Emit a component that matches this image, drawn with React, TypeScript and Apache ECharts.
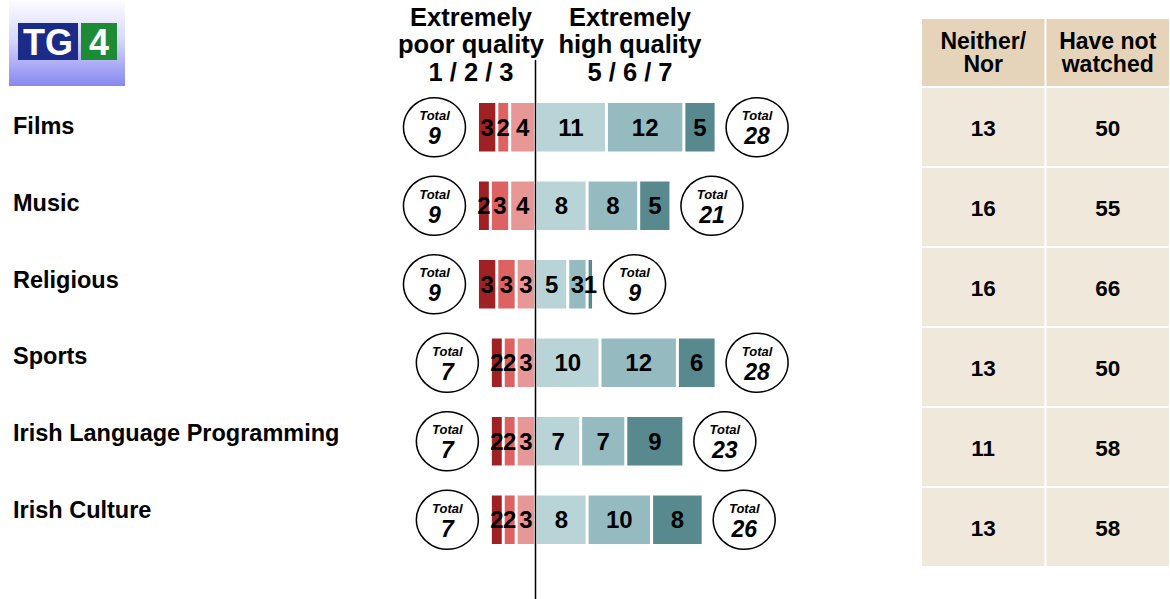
import React, { useEffect, useRef } from 'react';
import * as echarts from 'echarts';

// Programme genres rated by viewers
const categories = [
  'Films',
  'Music',
  'Religious',
  'Sports',
  'Irish Language Programming',
  'Irish Culture',
];

// Poor-quality scores (1 = extremely poor, 3 = closest to neutral)
const poor1 = [3, 2, 3, 2, 2, 2];
const poor2 = [2, 3, 3, 2, 2, 2];
const poor3 = [4, 4, 3, 3, 3, 3];
// High-quality scores (5 = closest to neutral, 7 = extremely high)
const high5 = [11, 8, 5, 10, 7, 8];
const high6 = [12, 8, 3, 12, 7, 10];
const high7 = [5, 5, 1, 6, 9, 8];

const poorTotals = [9, 9, 9, 7, 7, 7];
const highTotals = [28, 21, 9, 28, 23, 26];

// Side table
const tableColumns = ['Neither/\nNor', 'Have not\nwatched'];
const neitherNor = [13, 16, 16, 13, 11, 13];
const notWatched = [50, 55, 66, 50, 58, 58];

const FONT = '"Liberation Sans", Arial, Helvetica, sans-serif';

const COLORS = {
  poor1: '#a02124',
  poor2: '#df6262',
  poor3: '#e89797',
  high5: '#b9d4d7',
  high6: '#95bbc0',
  high7: '#57898e',
  headerFill: '#e5d4ba',
  bodyFill: '#f1e8dc',
};

function barSeries(name: string, values: number[], sign: number, color: string) {
  return {
    name,
    type: 'bar',
    stack: 'rating',
    xAxisIndex: 0,
    yAxisIndex: 0,
    barWidth: 51.5,
    data: values.map((v) => v * sign),
    itemStyle: { color, borderColor: '#ffffff', borderWidth: 1.5 },
    label: {
      show: true,
      position: 'inside',
      formatter: (p: any) => String(Math.abs(p.value)),
      color: '#000',
      fontFamily: FONT,
      fontWeight: 'bold',
      fontSize: 24,
    },
  };
}

function totalSeries(totals: number[], sign: number, offset: number) {
  return {
    type: 'scatter',
    xAxisIndex: 0,
    yAxisIndex: 0,
    symbol: 'circle',
    symbolSize: [62, 59],
    symbolOffset: [offset, 0],
    z: 5,
    data: totals.map((t, i) => [t * sign, i]),
    itemStyle: { color: '#ffffff', borderColor: '#000000', borderWidth: 1.5, opacity: 1 },
    label: {
      show: true,
      position: 'inside',
      formatter: (p: any) => `{t|Total}\n{n|${Math.abs(p.value[0])}}`,
      rich: {
        t: { fontFamily: FONT, fontSize: 13, fontStyle: 'italic', fontWeight: 'bold', color: '#000', lineHeight: 18 },
        n: { fontFamily: FONT, fontSize: 23, fontStyle: 'italic', fontWeight: 'bold', color: '#000', lineHeight: 23 },
      },
    },
  };
}

function tableRenderItem(params: any, api: any) {
  const col = api.value(0);
  const row = api.value(1);
  const c = api.coord([col, row]);
  const s = api.size([1, 1]);
  const w = s[0];
  const h = s[1];
  const x0 = c[0] - w / 2;
  const y0 = c[1] - h / 2;
  const children: any[] = [
    {
      type: 'rect',
      shape: { x: x0 + 1, y: y0 + 1, width: w - 2, height: h - 2 },
      style: { fill: COLORS.bodyFill },
    },
    {
      type: 'text',
      style: {
        x: c[0],
        y: c[1] + 1,
        text: String(api.value(2)),
        font: `bold 22.5px ${FONT}`,
        fill: '#000',
        align: 'center',
        verticalAlign: 'middle',
      },
    },
  ];
  if (row === 0) {
    children.push(
      {
        type: 'rect',
        shape: { x: x0 + 1, y: y0 - 68, width: w - 2, height: 67 },
        style: { fill: COLORS.headerFill },
      },
      {
        type: 'text',
        style: {
          x: c[0],
          y: y0 - 34.5,
          text: tableColumns[col],
          font: `bold 23px ${FONT}`,
          lineHeight: 23.5,
          fill: '#000',
          align: 'center',
          verticalAlign: 'middle',
        },
      }
    );
  }
  return { type: 'group', children };
}

function buildGraphics(zeroX: number) {
  return [
    // TG4 logo
    {
      type: 'group',
      children: [
        {
          type: 'rect',
          shape: { x: 9, y: 0, width: 116, height: 86 },
          style: {
            fill: new echarts.graphic.LinearGradient(0, 0, 0, 1, [
              { offset: 0, color: '#fdfdff' },
              { offset: 0.45, color: '#d8d8fb' },
              { offset: 1, color: '#8787f0' },
            ]),
          },
        },
        { type: 'rect', shape: { x: 18, y: 23, width: 60, height: 37 }, style: { fill: '#1b2b88' } },
        { type: 'rect', shape: { x: 81, y: 23, width: 36, height: 37 }, style: { fill: '#1d8a34' } },
        {
          type: 'text',
          style: {
            x: 48, y: 42, text: 'TG', font: `bold 36px ${FONT}`, fill: '#ffffff',
            align: 'center', verticalAlign: 'middle',
          },
        },
        {
          type: 'text',
          style: {
            x: 99, y: 42, text: '4', font: `bold 36px ${FONT}`, fill: '#ffffff',
            align: 'center', verticalAlign: 'middle',
          },
        },
      ],
    },
    // Scale headings
    {
      type: 'text',
      style: {
        x: 471, y: 3, text: 'Extremely\npoor quality\n1 / 2 / 3', font: `bold 25.5px ${FONT}`,
        lineHeight: 27.5, fill: '#000', align: 'center', verticalAlign: 'top',
      },
    },
    {
      type: 'text',
      style: {
        x: 630, y: 3, text: 'Extremely\nhigh quality\n5 / 6 / 7', font: `bold 25.5px ${FONT}`,
        lineHeight: 27.5, fill: '#000', align: 'center', verticalAlign: 'top',
      },
    },
    // Neutral divider at zero
    {
      type: 'line',
      shape: { x1: zeroX, y1: 60, x2: zeroX, y2: 599 },
      style: { stroke: '#000', lineWidth: 1.5 },
      z: 10,
    },
  ];
}

export default function App() {
  const ref = useRef<HTMLDivElement>(null);

  useEffect(() => {
    document.body.style.margin = '0';
    if (!ref.current) return;
    const chart = echarts.init(ref.current, undefined, { renderer: 'svg' });

    const tableData: number[][] = [];
    categories.forEach((_, i) => {
      tableData.push([0, i, neitherNor[i]]);
      tableData.push([1, i, notWatched[i]]);
    });

    const option: any = {
      animation: false,
      backgroundColor: '#ffffff',
      textStyle: { fontFamily: FONT },
      grid: [
        { left: 471, width: 258, top: 88, height: 471 },
        { left: 13, width: 10, top: 87.5, height: 461 },
        { left: 921, right: 0, top: 87, height: 480 },
      ],
      xAxis: [
        { gridIndex: 0, type: 'value', min: -10, max: 30, show: false },
        { gridIndex: 1, type: 'value', min: 0, max: 1, show: false },
        { gridIndex: 2, type: 'category', data: tableColumns, show: false },
      ],
      yAxis: [
        { gridIndex: 0, type: 'category', data: categories, inverse: true, show: false },
        {
          gridIndex: 1,
          type: 'category',
          data: categories,
          inverse: true,
          axisLine: { show: false },
          axisTick: { show: false },
          splitLine: { show: false },
          axisLabel: {
            align: 'left',
            margin: 0,
            color: '#000',
            fontFamily: FONT,
            fontWeight: 'bold',
            fontSize: 23.5,
          },
        },
        { gridIndex: 2, type: 'category', data: categories, inverse: true, show: false },
      ],
      series: [
        barSeries('3', poor3, -1, COLORS.poor3),
        barSeries('2', poor2, -1, COLORS.poor2),
        barSeries('1', poor1, -1, COLORS.poor1),
        barSeries('5', high5, 1, COLORS.high5),
        barSeries('6', high6, 1, COLORS.high6),
        barSeries('7', high7, 1, COLORS.high7),
        totalSeries(poorTotals, -1, -43),
        totalSeries(highTotals, 1, 41),
        {
          type: 'custom',
          xAxisIndex: 2,
          yAxisIndex: 2,
          renderItem: tableRenderItem,
          data: tableData,
          clip: false,
        },
      ],
    };

    chart.setOption(option);
    const zeroX = chart.convertToPixel({ xAxisIndex: 0 }, 0) as number;
    chart.setOption({ graphic: { elements: buildGraphics(zeroX) } });

    return () => {
      chart.dispose();
    };
  }, []);

  return <div ref={ref} style={{ width: 1170, height: 599 }} />;
}
